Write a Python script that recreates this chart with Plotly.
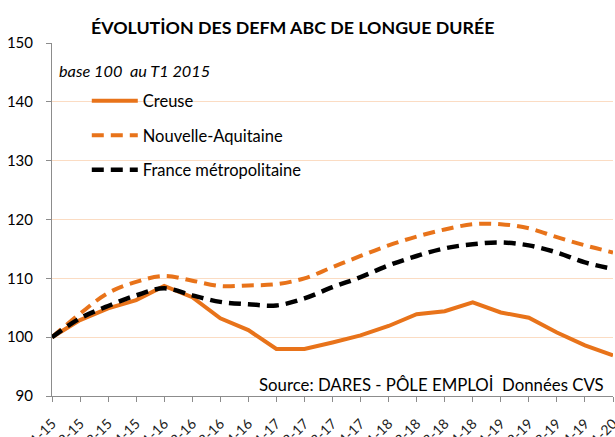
import plotly.graph_objects as go

quarters = ["T1-15", "T2-15", "T3-15", "T4-15", "T1-16", "T2-16", "T3-16", "T4-16",
            "T1-17", "T2-17", "T3-17", "T4-17", "T1-18", "T2-18", "T3-18", "T4-18",
            "T1-19", "T2-19", "T3-19", "T4-19", "T1-20"]
creuse = [100, 102.9, 104.9, 106.3, 108.7, 106.8, 103.2, 101.2, 98.0, 98.0, 99.1,
          100.3, 101.9, 103.9, 104.4, 105.9, 104.2, 103.3, 100.8, 98.6, 96.9]
nouvelle_aquitaine = [100, 104.0, 107.5, 109.4, 110.4, 109.6, 108.7, 108.8, 109.0, 110.0,
                      111.9, 113.8, 115.6, 117.1, 118.3, 119.2, 119.2, 118.5, 117.0,
                      115.6, 114.4]
france_metro = [100, 103.2, 105.3, 107.1, 108.3, 107.1, 106.0, 105.6, 105.4, 106.6, 108.5,
                110.2, 112.2, 113.8, 115.1, 115.8, 116.1, 115.6, 114.4, 112.7, 111.6]
y_ticks = [90, 100, 110, 120, 130, 140, 150]

idx = list(range(len(quarters)))
ORANGE = "#E8731A"
FONT = "Lato, Carlito, Calibri, sans-serif"

fig = go.Figure()
fig.add_trace(go.Scatter(x=idx, y=creuse, name="Creuse", mode="lines",
                         line=dict(color=ORANGE, width=4), legendgroup="a"))
fig.add_trace(go.Scatter(x=idx, y=nouvelle_aquitaine, name="Nouvelle-Aquitaine", mode="lines",
                         line=dict(color=ORANGE, width=4, dash="12px,7px", shape="spline"),
                         legendgroup="b"))
fig.add_trace(go.Scatter(x=idx, y=france_metro, name="France métropolitaine", mode="lines",
                         line=dict(color="black", width=4.5, dash="12px,7px", shape="spline"),
                         legendgroup="c"))

fig.update_layout(
    width=615, height=437,
    margin=dict(l=52, r=2, t=43, b=41, autoexpand=False),
    paper_bgcolor="white", plot_bgcolor="white",
    font=dict(family=FONT, color="black"),
    showlegend=True,
    legend=dict(x=0.062, y=0.885, xanchor="left", yanchor="top",
                font=dict(size=16.5, family=FONT), traceorder="grouped",
                tracegroupgap=10, itemwidth=46, bgcolor="rgba(0,0,0,0)"),
    xaxis=dict(range=[0, 20], tickmode="array", tickvals=idx, ticktext=quarters,
               tickangle=-45, showgrid=False, showline=True, linecolor="#8c8c8c",
               ticks="outside", ticklen=5, tickcolor="#8c8c8c", ticklabelstandoff=8,
               ticklabeloverflow="allow",
               tickfont=dict(size=14, color="#222"), zeroline=False, automargin=False),
    yaxis=dict(range=[90, 150], tickvals=y_ticks, showgrid=True, gridcolor="#FBDCC3",
               gridwidth=1, showline=True, linecolor="#8c8c8c", ticks="outside",
               ticklen=5, tickcolor="#8c8c8c", tickfont=dict(size=15), ticklabelstandoff=10,
               zeroline=False, automargin=False),
    annotations=[
        dict(text="<b>ÉVOLUTİON DES DEFM ABC DE LONGUE DURÉE</b>", xref="paper", yref="paper",
             x=(292 - 52) / 561, y=(396 - 27) / 353, xanchor="center", yanchor="middle",
             showarrow=False, font=dict(size=17.8, family=FONT)),
        dict(text="<i>base 100  au T1 2015</i>", xref="paper", yref="paper",
             x=(57 - 52) / 561, y=(396 - 70) / 353, xanchor="left", yanchor="middle",
             showarrow=False, font=dict(size=16.3, family=FONT)),
        dict(text="Source: DARES - PÔLE EMPLOİ  Données CVS", xref="paper", yref="paper",
             x=(606 - 52) / 561, y=(396 - 384) / 353, xanchor="right", yanchor="middle",
             showarrow=False, font=dict(size=16.8, family=FONT)),
    ],
)

fig.write_html("out.html", config={"displayModeBar": False},
               post_script="document.body.style.margin='0';document.body.style.overflow='hidden';")
